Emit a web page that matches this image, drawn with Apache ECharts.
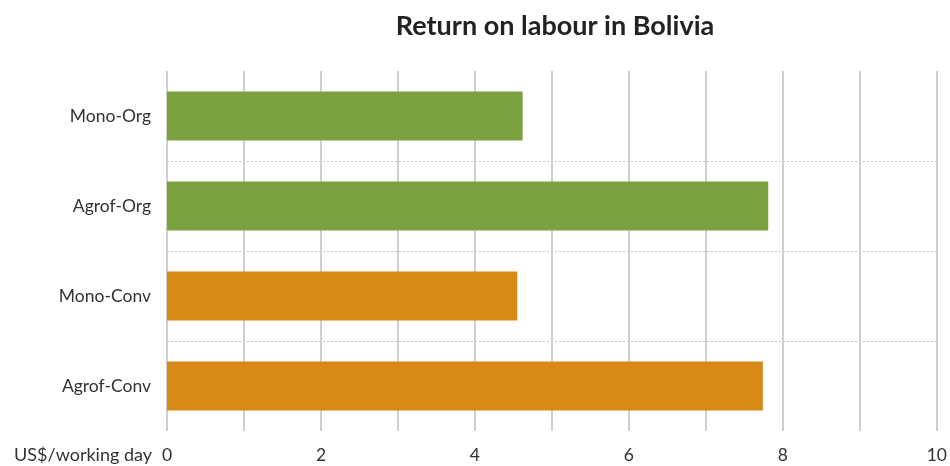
<!DOCTYPE html>
<html>
<head>
<meta charset="utf-8">
<script src="https://cdn.jsdelivr.net/npm/echarts@6/dist/echarts.min.js"></script>
<style>html,body{margin:0;padding:0;background:#fff;}#c{width:950px;height:466px;}</style>
</head>
<body>
<div id="c"></div>
<script>
const categories = ['Mono-Org', 'Agrof-Org', 'Mono-Conv', 'Agrof-Conv'];
const values = [4.62, 7.81, 4.55, 7.74];
const farming = ['Org', 'Org', 'Conv', 'Conv'];
const xTicks = [0, 2, 4, 6, 8, 10];

const colorFor = { Org: '#7aa241', Conv: '#d88a16' };
const font = 'Lato, "Open Sans", sans-serif';

const chart = echarts.init(document.getElementById('c'));
chart.setOption({
  animation: false,
  backgroundColor: '#fff',
  title: {
    text: 'Return on labour in Bolivia',
    left: 550, top: 8, textAlign: 'center',
    textStyle: { fontFamily: font, fontWeight: 'bold', fontSize: 27, color: '#222' }
  },
  grid: { left: 167, right: 13, top: 71, bottom: 35 },
  xAxis: {
    type: 'value', min: 0, max: 10, interval: 1,
    name: 'US$/working day', nameLocation: 'start', nameGap: 15,
    nameTextStyle: { fontFamily: font, fontSize: 18, color: '#333', align: 'right', verticalAlign: 'top', padding: [15, 0, 0, 0] },
    axisLine: { show: false }, axisTick: { show: false },
    axisLabel: {
      margin: 15, fontFamily: font, fontSize: 17.5, color: '#333',
      formatter: v => (xTicks.indexOf(v) >= 0 ? String(v) : '')
    },
    splitLine: { show: true, lineStyle: { color: '#cfcfcf', width: 2 } }
  },
  yAxis: {
    type: 'category', data: categories, inverse: true,
    axisLine: { show: false }, axisTick: { show: false },
    axisLabel: { margin: 16, fontFamily: font, fontSize: 17.5, color: '#333' },
    splitLine: { show: true, showMinLine: false, showMaxLine: false, lineStyle: { color: '#c4c4c4', type: [2, 2], width: 1 } }
  },
  series: [{
    type: 'bar',
    barWidth: 49,
    data: values.map((v, i) => ({ value: v, itemStyle: { color: colorFor[farming[i]] } }))
  }]
});
</script>
</body>
</html>
